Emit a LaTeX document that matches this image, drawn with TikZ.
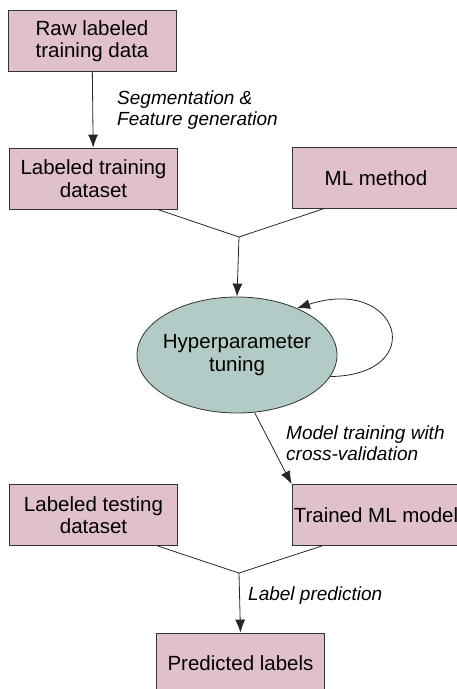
\documentclass[tikz,border=0pt]{standalone}
\usepackage{fontspec}
\setmainfont{Liberation Sans}
\usetikzlibrary{arrows.meta, shapes.geometric}

\definecolor{boxpink}{RGB}{224,193,203}
\definecolor{ellgreen}{RGB}{179,203,199}

\tikzset{
    databox/.style={draw=black!80, fill=boxpink, thick, align=center,
        minimum width=168pt, minimum height=61pt, inner sep=1pt,
        font=\fontsize{20.5}{22.5}\selectfont},
    tuneell/.style={ellipse, draw=black!80, fill=ellgreen, thick, align=center,
        minimum width=200pt, minimum height=116pt, inner xsep=-6pt, inner ysep=0pt,
        font=\fontsize{20.5}{23}\selectfont},
    steplabel/.style={anchor=west, align=left, inner sep=0pt,
        font=\fontsize{19}{21}\selectfont\itshape},
    flow/.style={-{Latex[length=13pt,width=10pt]}, thick, black!85},
    mergeline/.style={thick, black!85}
}

\begin{document}
\begin{tikzpicture}[x=1pt, y=-1pt]
    \useasboundingbox (0,0) rectangle (457,689);

    \node[databox] (raw) at (92,41) {Raw labeled\\training data};
    \node[databox] (train) at (93.5,178.5) {Labeled training\\dataset};
    \node[databox] (method) at (376,178) {ML method};
    \node[tuneell] (tuning) at (237,355) {Hyperparameter\\tuning};
    \node[databox] (test) at (93.5,515) {Labeled testing\\dataset};
    \node[databox] (model) at (376,515) {Trained ML model};
    \node[databox] (pred) at (240.5,663.5) {Predicted labels};

    \coordinate (mergeA) at (239,237);
    \coordinate (mergeB) at (239,573);

    % training branch
    \draw[flow] (raw) -- (train);
    \node[steplabel] (seglbl) at (117,110) {Segmentation \&\\Feature generation};
    \draw[mergeline] ([xshift=64pt]train.south) -- (mergeA);
    \draw[mergeline] ([xshift=-53pt]method.south) -- (mergeA);
    \draw[flow] (mergeA) -- (tuning.north);
    \draw[flow] (tuning.-13) .. controls (430,375) and (400,275) .. (tuning.38);
    \draw[flow] (tuning.-73) -- (model.north west);
    \node[steplabel] (cvlbl) at (286,443) {Model training with\\cross-validation};

    % prediction branch
    \draw[mergeline] ([xshift=64pt]test.south) -- (mergeB);
    \draw[mergeline] ([xshift=-54pt]model.south) -- (mergeB);
    \draw[flow] (mergeB) -- (pred.north);
    \node[steplabel] (predlbl) at (248,596) {Label prediction};
\end{tikzpicture}
\end{document}
